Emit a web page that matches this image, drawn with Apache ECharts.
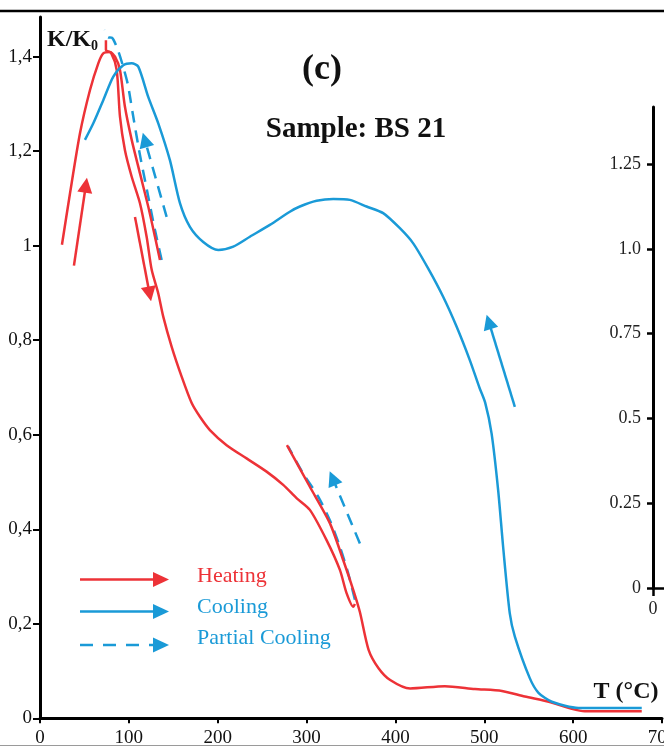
<!DOCTYPE html>
<html>
<head>
<meta charset="utf-8">
<script src="https://cdn.jsdelivr.net/npm/echarts@6/dist/echarts.min.js"></script>
<style>html,body{margin:0;padding:0;background:#fff;}#c{width:664px;height:747px;}</style>
</head>
<body>
<div id="c"></div>
<script>
// ---- data (T in °C, K/K0) ----
const tempTicks = [0, 100, 200, 300, 400, 500, 600, 700];
const kTicks = [0, 0.2, 0.4, 0.6, 0.8, 1, 1.2, 1.4];
const rightTicks = [0, 0.25, 0.5, 0.75, 1, 1.25];

const heating1 = [[24.7,1.002],[33.7,1.110],[45.0,1.238],[56.2,1.329],[65.6,1.386],[71.2,1.407],[78.7,1.410],[84.4,1.400],[90.0,1.372],[95.6,1.294],[103.2,1.224],[112.5,1.153],[121.8,1.083],[129.4,1.019],[135.0,0.970]];
const partialCooling1 = [[136.9,0.970],[129.4,1.033],[121.5,1.107],[112.5,1.192],[104.6,1.277],[99.0,1.340],[93.4,1.380],[87.7,1.414],[81.0,1.440],[76.5,1.441],[73.1,1.457]];
const heating2 = [[74.2,1.435],[74.2,1.414],[80.0,1.408],[86.3,1.372],[90.0,1.273],[95.6,1.202],[103.2,1.146],[112.5,1.090],[120.0,1.019],[125.7,0.949],[133.1,0.899],[138.7,0.850],[148.2,0.786],[159.4,0.723],[170.7,0.667],[180.0,0.638],[191.2,0.610],[210.0,0.578],[232.5,0.550],[255.0,0.522],[273.7,0.494],[288.7,0.466],[303.7,0.441],[322.5,0.377],[337.5,0.314],[345.0,0.265],[352.5,0.236],[354.4,0.242]];
const partialCooling2 = [[354.4,0.251],[346.8,0.307],[337.5,0.363],[326.2,0.419],[313.1,0.469],[296.2,0.518],[279.3,0.575]];
const heating3 = [[277.9,0.578],[303.7,0.490],[326.2,0.413],[341.2,0.335],[352.5,0.272],[360.0,0.225],[369.8,0.145],[381.0,0.106],[394.1,0.081],[416.6,0.063],[455.6,0.068],[489.4,0.062],[519.8,0.058],[545.6,0.046],[572.6,0.035],[598.5,0.020],[613.1,0.015],[677.2,0.015]];
const cooling = [[677.2,0.022],[606.0,0.022],[576.0,0.035],[561.0,0.054],[551.2,0.085],[534.4,0.173],[528.7,0.222],[521.2,0.363],[515.6,0.483],[508.2,0.603],[501.0,0.668],[494.5,0.700],[483.7,0.758],[468.8,0.829],[453.7,0.892],[436.8,0.952],[420.0,1.005],[405.0,1.037],[386.2,1.069],[367.5,1.083],[348.7,1.097],[330.0,1.099],[311.3,1.095],[292.5,1.083],[281.2,1.072],[258.7,1.044],[236.2,1.019],[217.5,0.998],[200.6,0.991],[183.7,1.008],[168.7,1.040],[157.5,1.090],[146.2,1.181],[133.1,1.259],[121.8,1.315],[110.6,1.379],[103.2,1.386],[93.7,1.382],[82.5,1.358],[71.2,1.308],[60.0,1.259],[50.6,1.224]];

// direction arrows: [from, to]
const heatingArrows = [[[38.2,0.958],[51.6,1.128]], [[106.9,1.061],[123.4,0.898]]];
const coolingArrows = [[[534.4,0.659],[505.1,0.839]]];
const partialArrows = [[[142.5,1.061],[118.0,1.224]], [[360.0,0.370],[329.3,0.508]]];

const RED = '#ED3237', BLUE = '#1A9AD7';
const SERIF = '"Liberation Serif", "DejaVu Serif", serif';

function kFmt(v){ if (v === 0) return '0'; if (v === 1) return '1'; return String(+v.toFixed(2)).replace('.', ','); }
function rFmt(v){ if (v === 0) return '0'; if (v === 1) return '1.0'; return String(+v.toFixed(2)); }

const chart = echarts.init(document.getElementById('c'), null, {renderer: 'canvas'});

const lineSeries = (name, data, color, dashed, z) => ({
  type: 'line', name, data, xAxisIndex: 0, yAxisIndex: 0,
  showSymbol: false, symbol: 'none', smooth: 0.25, z: z,
  lineStyle: {color, width: 2.5, type: dashed ? [12, 8] : 'solid'},
  itemStyle: {color}, silent: true, animation: false
});
const arrowSeries = (arr, color, dashed) => ({
  type: 'lines', coordinateSystem: 'cartesian2d', xAxisIndex: 0, yAxisIndex: 0,
  data: arr.map(a => ({coords: a})),
  symbol: ['none', 'triangle'], symbolSize: 15, z: 5,
  lineStyle: {color, width: 2.5, opacity: 1, type: dashed ? [12, 8] : 'solid'},
  itemStyle: {color}, silent: true, animation: false
});

const legendY = [579.5, 611.5, 645];
function legendItem(y, color, dashed, text, ty){
  return [
    {type: 'line', shape: {x1: 80, y1: y, x2: 156, y2: y}, style: {stroke: color, lineWidth: 2.5, lineDash: dashed ? [13, 10] : null}},
    {type: 'polygon', shape: {points: [[153, y-7.5], [169, y], [153, y+7.5]]}, style: {fill: color}},
    {type: 'text', x: 197, y: ty, style: {text, fill: color, font: '22px ' + SERIF, textVerticalAlign: 'middle'}}
  ];
}

const option = {
  animation: false,
  backgroundColor: '#fff',
  grid: [
    {left: 40, right: 2, top: 17, bottom: 28.7, containLabel: false, outerBoundsMode: 'none'},
    {left: 653, width: 11, top: 107, height: 481, containLabel: false, outerBoundsMode: 'none'}
  ],
  xAxis: [
    {type: 'value', gridIndex: 0, min: 0, max: 700, interval: 100,
     axisLine: {show: true, onZero: false, lineStyle: {color: '#000', width: 3}},
     axisTick: {show: true, length: 5, lineStyle: {color: '#000', width: 2}, customValues: tempTicks},
     axisLabel: {margin: 10, color: '#111', fontSize: 19, fontFamily: SERIF, customValues: tempTicks, showMaxLabel: true, hideOverlap: false},
     splitLine: {show: false}},
    {type: 'value', gridIndex: 1, min: 0, max: 1,
     axisLine: {show: true, onZero: false, lineStyle: {color: '#000', width: 2.5}},
     axisTick: {show: true, length: 8, lineStyle: {color: '#000', width: 2.5}, customValues: [0]},
     axisLabel: {margin: 12, color: '#222', fontSize: 18, fontFamily: SERIF, customValues: [0]},
     splitLine: {show: false}}
  ],
  yAxis: [
    {type: 'value', gridIndex: 0, min: 0, max: 1.484,
     axisLine: {show: true, onZero: false, lineStyle: {color: '#000', width: 3}},
     axisTick: {show: true, length: 7, lineStyle: {color: '#000', width: 2}, customValues: kTicks},
     axisLabel: {margin: 8, color: '#111', fontSize: 19, fontFamily: SERIF, customValues: kTicks, formatter: kFmt},
     splitLine: {show: false}},
    {type: 'value', gridIndex: 1, min: 0, max: 1.418, position: 'left',
     axisLine: {show: true, onZero: false, lineStyle: {color: '#000', width: 3}},
     axisTick: {show: true, length: 6, lineStyle: {color: '#000', width: 2.5}, customValues: rightTicks},
     axisLabel: {margin: 12, color: '#222', fontSize: 18, fontFamily: SERIF, customValues: rightTicks, formatter: rFmt},
     splitLine: {show: false}}
  ],
  series: [
    lineSeries('Partial Cooling 1', partialCooling1, BLUE, true, 2),
    lineSeries('Partial Cooling 2', partialCooling2, BLUE, true, 2),
    lineSeries('Heating 1', heating1, RED, false, 3),
    lineSeries('Heating 2', heating2, RED, false, 3),
    lineSeries('Heating 3', heating3, RED, false, 3),
    lineSeries('Cooling', cooling, BLUE, false, 4),
    arrowSeries(heatingArrows, RED, false),
    arrowSeries(coolingArrows, BLUE, false),
    arrowSeries(partialArrows, BLUE, true)
  ],
  graphic: [
    {type: 'line', shape: {x1: 0, y1: 11, x2: 664, y2: 11}, style: {stroke: '#000', lineWidth: 2.5}},
    {type: 'line', shape: {x1: 0, y1: 745.5, x2: 664, y2: 745.5}, style: {stroke: '#9a9a9a', lineWidth: 1}},
    {type: 'text', x: 322, y: 70, style: {text: '(c)', fill: '#111', font: 'bold 36px ' + SERIF, textAlign: 'center', textVerticalAlign: 'middle'}},
    {type: 'text', x: 356, y: 130, style: {text: 'Sample: BS 21', fill: '#111', font: 'bold 29px ' + SERIF, textAlign: 'center', textVerticalAlign: 'middle'}},
    {type: 'text', x: 47, y: 40, style: {
      text: '{a|K/K}{b|0}', textVerticalAlign: 'middle',
      rich: {a: {fontSize: 24, fontWeight: 'bold', fontFamily: SERIF, fill: '#111', color: '#111'},
             b: {fontSize: 14, fontWeight: 'bold', fontFamily: SERIF, fill: '#111', color: '#111', padding: [12, 0, 0, 0]}}}},
    {type: 'text', x: 626, y: 692, style: {text: 'T (°C)', fill: '#111', font: 'bold 24px ' + SERIF, textAlign: 'center', textVerticalAlign: 'middle'}},
    ...legendItem(legendY[0], RED, false, 'Heating', 576.5),
    ...legendItem(legendY[1], BLUE, false, 'Cooling', 607),
    ...legendItem(legendY[2], BLUE, true, 'Partial Cooling', 638.5)
  ]
};
chart.setOption(option);
</script>
</body>
</html>
